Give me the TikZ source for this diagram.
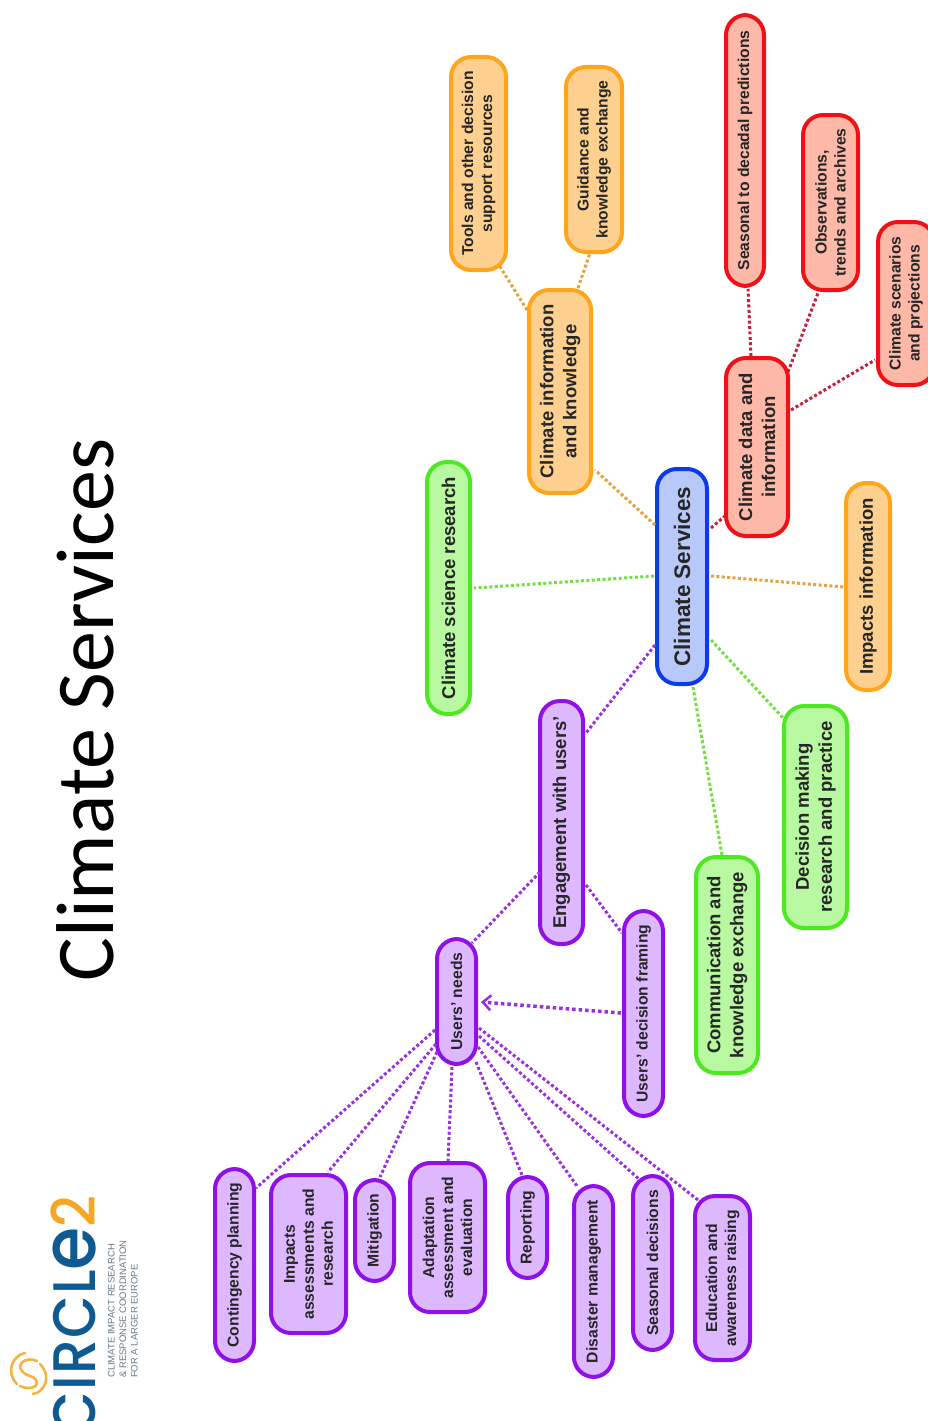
\documentclass[tikz,border=0pt]{standalone}
\usepackage{fontspec}
\setmainfont{Liberation Sans}
\newfontfamily\titlefont{Carlito}
\newfontfamily\logofont[FakeStretch=0.92,LetterSpace=2]{Poppins Medium}
\usetikzlibrary{arrows.meta}
\definecolor{pb}{HTML}{9010E8}\definecolor{pf}{HTML}{DDB8FF}\definecolor{pd}{HTML}{9A30DC}
\definecolor{rb}{HTML}{F01018}\definecolor{rf}{HTML}{FDB8A8}\definecolor{rd}{HTML}{C4203C}
\definecolor{ob}{HTML}{FFA51A}\definecolor{of}{HTML}{FDD090}\definecolor{od}{HTML}{E8A040}
\definecolor{gb}{HTML}{4CE820}\definecolor{gf}{HTML}{B8F8A0}\definecolor{gd}{HTML}{70E040}
\definecolor{bb}{HTML}{0B3BE8}\definecolor{bf}{HTML}{B8C8F8}
\definecolor{logoblue}{HTML}{0F5A90}\definecolor{logoorange}{HTML}{F5A623}\definecolor{logogrey}{HTML}{6A7A88}
\tikzset{
  base/.style={rotate=90,align=center,inner sep=0pt,line width=4pt,rounded corners=20pt,font=\bfseries\fontsize{15.7}{19}\selectfont,text=black!85},
  big/.style={font=\bfseries\fontsize{18.5}{23}\selectfont},
  purplebox/.style={base,draw=pb,fill=pf},
  redbox/.style={base,draw=rb,fill=rf},
  orangebox/.style={base,draw=ob,fill=of},
  greenbox/.style={base,draw=gb,fill=gf},
  bluebox/.style={base,draw=bb,fill=bf},
  dots/.style={line width=3pt,dash pattern=on 3pt off 2.4pt},
  pl/.style={dots,draw=pd}, rl/.style={dots,draw=rd}, ol/.style={dots,draw=od}, gl/.style={dots,draw=gd},
  swirl/.style={line width=2.6pt,draw=logoorange!85,line cap=round},
}
% box: name, style, left, top, right, bottom, text
\newcommand{\bx}[7]{%
  \pgfmathsetmacro{\cxx}{(#3+#5)/2}\pgfmathsetmacro{\cyy}{(#4+#6)/2}%
  \pgfmathsetmacro{\ww}{#6-#4-4}\pgfmathsetmacro{\hh}{#5-#3-4}%
  \expandafter\xdef\csname cx@#1\endcsname{\cxx}\expandafter\xdef\csname cy@#1\endcsname{\cyy}%
  \node[#2,minimum width=\ww pt,minimum height=\hh pt] (#1) at (\cxx,\cyy) {#7};}
% connector: style, node a, point on a, node b, point on b
\newcommand{\cn}[7]{%
  \pgfmathsetmacro{\ax}{#3-\csname cx@#2\endcsname}\pgfmathsetmacro{\ay}{#4-\csname cy@#2\endcsname}%
  \pgfmathsetmacro{\bxx}{#6-\csname cx@#5\endcsname}\pgfmathsetmacro{\byy}{#7-\csname cy@#5\endcsname}%
  \draw[#1] ([shift={(\ax,\ay)}]#2.center) -- ([shift={(\bxx,\byy)}]#5.center);}
\begin{document}
\begin{tikzpicture}[x=1pt,y=-1pt]
\clip (0,0) rectangle (928,1421);
\fill[white] (0,0) rectangle (928,1421);
% title
\node[rotate=90,inner sep=0pt,text=black,font=\titlefont\fontsize{82}{90}\selectfont] (title) at (85,710) {Climate Services};
% logo
\node[rotate=90,anchor=east,inner sep=0pt,font=\logofont\fontsize{60}{60}\selectfont,text=logoblue] (logo) at (74,1195)
  {CIRCL{\fontsize{76}{60}\selectfont e}\textcolor{logoorange}{2}};
\node[rotate=90,anchor=south west,inner sep=0pt,align=left,text=logogrey,font=\fontsize{9.5}{11.5}\selectfont] (logotext) at (138,1378)
  {CLIMATE IMPACT RESEARCH\\\& RESPONSE COORDINATION\\FOR A LARGER EUROPE};
\draw[swirl] (25,1353) .. controls (13,1355) and (5,1372) .. (17,1384);
\draw[swirl] (33,1394) .. controls (45,1392) and (52,1376) .. (40,1364);
\draw[swirl] (37,1361) .. controls (26,1356) and (16,1364) .. (22,1371) .. controls (27,1377) and (33,1375) .. (36,1380) .. controls (40,1388) and (28,1390) .. (20,1386);
% nodes
\bx{cs}{bluebox,font=\bfseries\fontsize{22.5}{26}\selectfont}{655}{467}{709}{686}{Climate Services}
\bx{data}{redbox,big}{724}{356}{790}{538}{Climate data and\\information}
\bx{info}{orangebox,big}{527}{288}{593}{495}{Climate information\\and knowledge}
\bx{tools}{orangebox}{449}{55}{508}{272}{Tools and other decision\\support resources}
\bx{guid}{orangebox}{564}{65}{624}{254}{Guidance and\\knowledge exchange}
\bx{seas}{redbox}{724}{13}{766}{288}{Seasonal to decadal predictions}
\bx{obs}{redbox}{801}{113}{860}{292}{Observations,\\trends and archives}
\bx{scen}{redbox}{876}{220}{936}{387}{Climate scenarios\\and projections}
\bx{imp}{orangebox,big}{844}{481}{892}{692}{Impacts information}
\bx{sci}{greenbox,big}{425}{460}{472}{716}{Climate science research}
\bx{dec}{greenbox,big}{782}{704}{849}{930}{Decision making\\research and practice}
\bx{comm}{greenbox,big}{694}{855}{760}{1075}{Communication and\\knowledge exchange}
\bx{eng}{purplebox,big}{538}{699}{585}{946}{Engagement with users'}
\bx{fram}{purplebox}{622}{909}{665}{1118}{Users' decision framing}
\bx{need}{purplebox}{435}{937}{478}{1066}{Users' needs}
\bx{cont}{purplebox}{213}{1167}{256}{1363}{Contingency planning}
\bx{ias}{purplebox}{269}{1173}{348}{1335}{Impacts\\assessments and\\research}
\bx{miti}{purplebox}{353}{1178}{396}{1283}{Mitigation}
\bx{adap}{purplebox}{408}{1161}{487}{1314}{Adaptation\\assessment and\\evaluation}
\bx{repo}{purplebox}{506}{1175}{549}{1280}{Reporting}
\bx{disa}{purplebox}{572}{1184}{615}{1379}{Disaster management}
\bx{sdec}{purplebox}{631}{1174}{674}{1352}{Seasonal decisions}
\bx{edu}{purplebox}{693}{1194}{752}{1362}{Education and\\awareness raising}
% connectors
\cn{ol}{cs}{655}{525}{info}{595}{470}
\cn{rl}{cs}{711}{528}{data}{725}{516}
\cn{gl}{cs}{654}{576}{sci}{474}{588}
\cn{ol}{cs}{711}{576}{imp}{844}{587}
\cn{gl}{cs}{711}{640}{dec}{785}{720}
\cn{gl}{cs}{693}{687}{comm}{722}{855}
\cn{pl}{cs}{655}{645}{eng}{586}{733}
\cn{ol}{info}{527}{310}{tools}{499}{265}
\cn{ol}{info}{578}{288}{guid}{590}{253}
\cn{rl}{data}{751}{356}{seas}{748}{289}
\cn{rl}{data}{788}{372}{obs}{818}{293}
\cn{rl}{data}{791}{410}{scen}{875}{360}
\cn{pl}{eng}{540}{872}{need}{472}{943}
\cn{pl}{eng}{586}{885}{fram}{622}{933}
\cn{pl,line width=3.5pt,dash pattern=on 3.5pt off 3pt,-{Straight Barb[length=8pt,width=15pt,line width=2.5pt]}}{fram}{621}{1013}{need}{481}{1002}
\cn{pl}{need}{435}{1030}{cont}{256}{1188}
\cn{pl}{need}{436}{1044}{ias}{328}{1172}
\cn{pl}{need}{437}{1052}{miti}{380}{1177}
\cn{pl}{need}{452}{1067}{adap}{448}{1161}
\cn{pl}{need}{476}{1062}{repo}{522}{1175}
\cn{pl}{need}{478}{1047}{disa}{577}{1186}
\cn{pl}{need}{479}{1036}{sdec}{640}{1180}
\cn{pl}{need}{479}{1028}{edu}{698}{1200}
\end{tikzpicture}
\end{document}
